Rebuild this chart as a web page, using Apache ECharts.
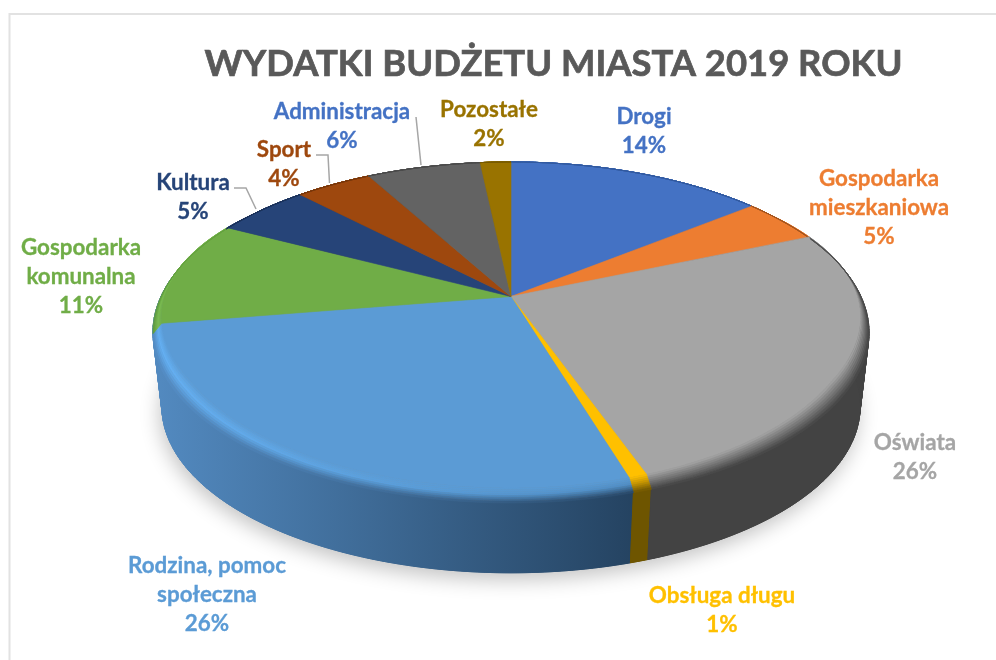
<!DOCTYPE html>
<html>
<head>
<meta charset="utf-8">
<style>html,body{margin:0;padding:0;background:#fff}#c{width:996px;height:660px}</style>
<script src="https://cdn.jsdelivr.net/npm/echarts@6/dist/echarts.min.js"></script>
</head>
<body>
<div id="c"></div>
<script>
const titleText = 'WYDATKI BUDŻETU MIASTA 2019 ROKU';
const categories = ['Drogi', 'Gospodarka\nmieszkaniowa', 'Oświata', 'Obsługa długu', 'Rodzina, pomoc\nspołeczna', 'Gospodarka\nkomunalna', 'Kultura', 'Sport', 'Administracja', 'Pozostałe'];
const values = [14.2, 4.6, 26, 0.7, 26, 11, 5.3, 4.2, 6.3, 1.7];
const sliceColors = ['#4472C4', '#ED7D31', '#A5A5A5', '#FFC000', '#5B9BD5', '#70AD47', '#264478', '#9E480E', '#636363', '#997300'];
const labelColors = ['#4472C4', '#ED7D31', '#A5A5A5', '#FFC000', '#5B9BD5', '#70AD47', '#264478', '#9E480E', '#4472C4', '#997300'];
// rim colours: [mid of bevel, outer edge of bevel / wall]
const rimColors = [
  ['#4472C4', '#2F5597'], ['#ED7D31', '#8F4B1D'], ['#7A7A7A', '#434343'], ['#C89600', '#6E5500'],
  [null, null], ['#7CBD50', '#5F9A3C'], ['#264478', '#1A2F54'], ['#9E480E', '#6E320A'], ['#636363', '#444444'], ['#997300', '#6E5500']
];
const labelPos = [[644, 131], [879, 208], [915, 457], [722, 610], [207, 595], [81, 277], [193, 197], [284, 164], [342, 126], [489, 124]];
const leaders = [null, null, null, null, null, null,
  [[234, 188], [246, 188], [256, 209]],
  [[316, 155], [328, 155], [329.5, 183]],
  [[416, 117], [421, 165]],
  null];

// layout of the tilted disc
const CX = 511, CY = 296.5, R = 350, S = 162.9, K = 0.211, DEPTH = 75, SHRINK = 0.975;
const BEVEL_Y = 15, BEVEL_X = 0.035, STRIPS = 8, WALL_WRAP = 6;

const total = values.reduce((a, b) => a + b, 0);
let running = 0;
const sliceData = values.map((v, i) => { const d = [running, running + v, i]; running += v; return d; });

function unit(p) { const t = p / total * Math.PI * 2; return [Math.sin(t), -Math.cos(t)]; }
function bevelG(v) { return Math.max(0, Math.min(1, (v + 0.55) / 1.1)); }
function ringTop(p, lam) { // lam=1 outer edge, lam=0 inner edge of the bevel
  const [u, v] = unit(p), w = 1 - K * v, g = bevelG(v), d = 1 - lam;
  return [CX + R * u / w * (1 - BEVEL_X * g * d), CY + S * v / w - BEVEL_Y * g * d];
}
function ringBottom(p) {
  const [u, v] = unit(p), w = 1 - K * v;
  return [CX + SHRINK * R * u / w, CY + DEPTH + SHRINK * S * v / w];
}
function arc(a, b, fn) {
  const n = Math.max(2, Math.ceil((b - a) / 0.25)), pts = [];
  for (let i = 0; i <= n; i++) pts.push(fn(a + (b - a) * i / n));
  return pts;
}
function hex(c) { return [1, 3, 5].map(i => parseInt(c.substr(i, 2), 16)); }
function mix(a, b, t) { const x = hex(a), y = hex(b); return 'rgb(' + x.map((q, i) => Math.round(q + (y[i] - q) * t)).join(',') + ')'; }
function hgrad(l, r) { return new echarts.graphic.LinearGradient(160, 0, 640, 0, [{ offset: 0, color: l }, { offset: 1, color: r }], true); }
function poly(points, fill, lineWidth) {
  return { type: 'polygon', shape: { points }, style: { fill, stroke: fill, lineWidth: lineWidth || 0.6 }, silent: true };
}
const BLUE_WALL_L = '#5289BF', BLUE_WALL_R = '#244260', BLUE_HI_L = '#64B0F3', BLUE_HI_R = '#4F8CC2';
function rimFill(i, t) { // t: 0 inner .. 1 outer
  const base = sliceColors[i];
  if (rimColors[i][0] === null) {
    if (t < 0.45) return hgrad(mix(base, BLUE_HI_L, t / 0.45), mix(base, BLUE_HI_R, t / 0.45));
    const q = (t - 0.45) / 0.55;
    return hgrad(mix(BLUE_HI_L, BLUE_WALL_L, q), mix(BLUE_HI_R, BLUE_WALL_R, q));
  }
  const [m, e] = rimColors[i];
  return t < 0.45 ? mix(base, m, t / 0.45) : mix(m, e, (t - 0.45) / 0.55);
}

function renderShadow() {
  return {
    type: 'polygon', silent: true,
    shape: { points: arc(0, total, ringBottom) },
    style: { fill: '#888', shadowBlur: 20, shadowColor: 'rgba(0,0,0,0.24)', shadowOffsetX: -2, shadowOffsetY: 7 }
  };
}
function renderWall(params, api) {
  const a = api.value(0), i = api.value(2), wraps = rimColors[i][0] === null;
  const b = api.value(1) + (wraps ? WALL_WRAP : 0);
  const top = arc(a, b, p => ringTop(p, 1)), bot = arc(a, b, ringBottom);
  const fill = wraps ? hgrad(BLUE_WALL_L, BLUE_WALL_R) : rimColors[i][1];
  // swept quads fill the silhouette between the rings; one body on top hides their seams
  const children = [];
  for (let k = 0; k + 1 < top.length; k++) children.push(poly([top[k], top[k + 1], bot[k + 1], bot[k]], fill, 1));
  children.push(poly(top.concat(bot.slice().reverse()), fill));
  return { type: 'group', children };
}
function renderFace(params, api) {
  const a = api.value(0), b = api.value(1), i = api.value(2);
  const children = [poly([[CX, CY]].concat(arc(a, b, p => ringTop(p, 0))), sliceColors[i])];
  for (let s = 0; s < STRIPS; s++) {
    const l0 = s / STRIPS, l1 = (s + 1) / STRIPS;
    const outer = arc(a, b, p => ringTop(p, l1)), inner = arc(a, b, p => ringTop(p, l0)).reverse();
    children.push(poly(outer.concat(inner), rimFill(i, (s + 0.5) / STRIPS)));
  }
  return { type: 'group', children };
}
function renderLabel(params, api) {
  const i = api.value(2), pct = Math.round(values[i] / total * 100);
  const children = [{
    type: 'text', silent: true, x: labelPos[i][0], y: labelPos[i][1],
    style: {
      text: categories[i] + '\n' + pct + '%', fill: labelColors[i], align: 'center', verticalAlign: 'middle',
      font: 'bold 22.4px Lato', lineHeight: 29, stroke: labelColors[i], lineWidth: 0.3
    }
  }];
  if (leaders[i]) children.push({
    type: 'polyline', silent: true, shape: { points: leaders[i] },
    style: { stroke: '#A6A6A6', lineWidth: 1.5, fill: null }
  });
  return { type: 'group', children };
}

const chart = echarts.init(document.getElementById('c'), null, { renderer: 'canvas' });
chart.setOption({
  backgroundColor: '#fff',
  animation: false,
  title: {
    text: titleText, left: 553.5, top: 46, textAlign: 'center', padding: 0,
    textStyle: { fontFamily: 'Lato', fontWeight: 'bold', fontSize: 36.4, color: '#595959', textBorderColor: '#595959', textBorderWidth: 0.7 }
  },
  graphic: [{
    type: 'polyline', silent: true, z: 0,
    shape: { points: [[9.5, 660], [9.5, 14], [996, 14]] },
    style: { stroke: '#E2E2E2', lineWidth: 2, fill: null }
  }],
  series: [
    { type: 'custom', coordinateSystem: 'none', silent: true, z: 2, data: [[0, total, 0]], renderItem: renderShadow },
    { type: 'custom', coordinateSystem: 'none', silent: true, z: 3, data: sliceData.slice().reverse(), renderItem: renderWall },
    { type: 'custom', coordinateSystem: 'none', silent: true, z: 4, data: sliceData, renderItem: renderFace },
    { type: 'custom', coordinateSystem: 'none', silent: true, z: 5, data: sliceData, renderItem: renderLabel }
  ]
});
</script>
</body>
</html>
